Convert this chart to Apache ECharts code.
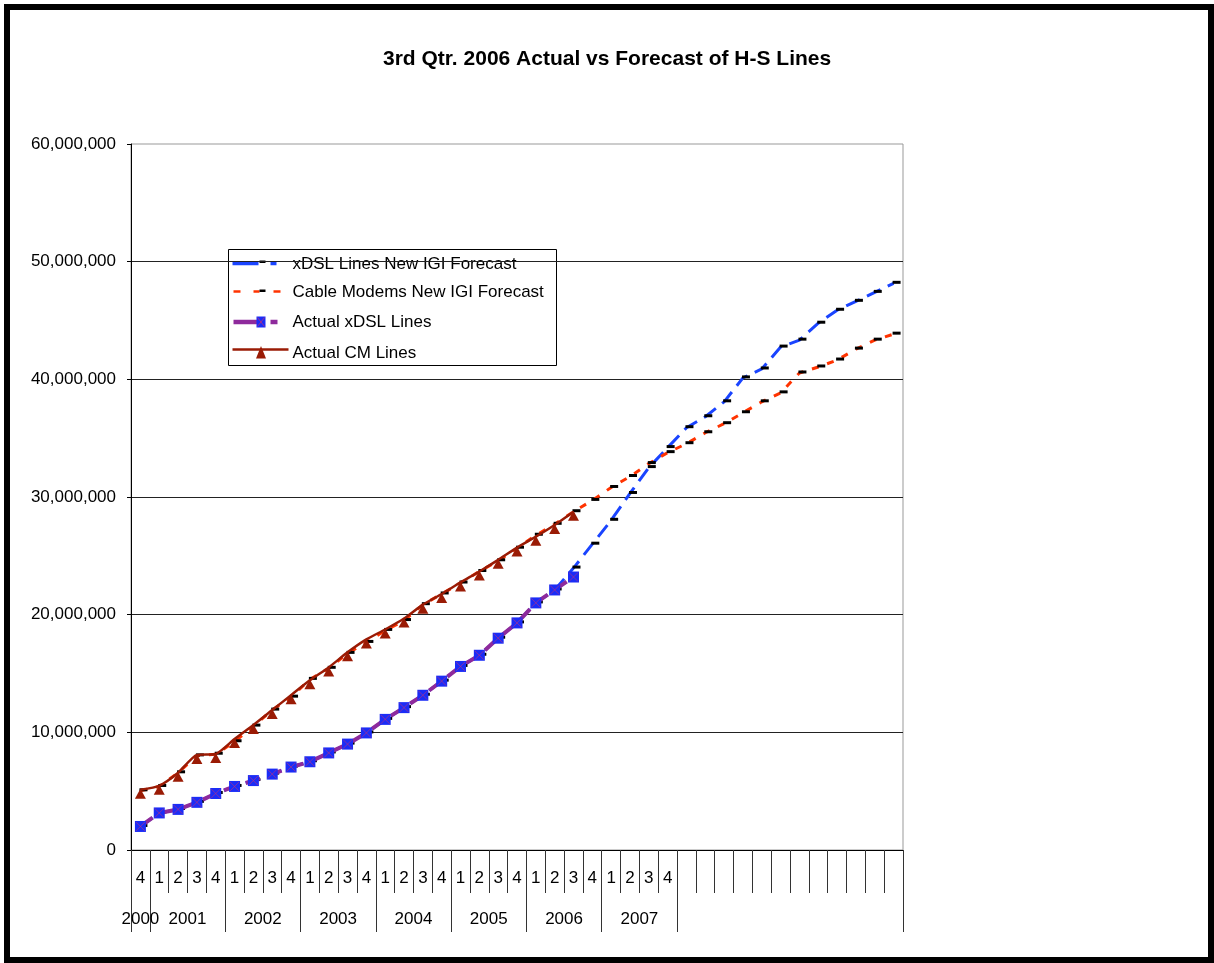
<!DOCTYPE html>
<html>
<head>
<meta charset="utf-8">
<title>H-S Lines</title>
<script src="https://cdn.jsdelivr.net/npm/echarts@6/dist/echarts.min.js"></script>
<style>
  html, body { margin: 0; padding: 0; background: #fff; }
  #chart { width: 1214px; height: 963px; }
</style>
</head>
<body>
<div id="chart"></div>
<script>
// Quarter labels along the category axis (2000 Q4 through 2010 Q4; later years unlabelled)
const quarterLabels = [
  '4',
  '1', '2', '3', '4',
  '1', '2', '3', '4',
  '1', '2', '3', '4',
  '1', '2', '3', '4',
  '1', '2', '3', '4',
  '1', '2', '3', '4',
  '1', '2', '3', '4',
  '', '', '', '',
  '', '', '', '',
  '', '', '', ''
];

// Year groups under the quarters and how many quarters each spans
const yearLabels = ['2000', '2001', '2002', '2003', '2004', '2005', '2006', '2007'];
const yearQuarterCounts = [1, 4, 4, 4, 4, 4, 4, 4];

// Lines in service
const actualXdsl = [
  2000000, 3150000, 3450000, 4050000, 4800000, 5400000, 5900000, 6450000,
  7050000, 7500000, 8250000, 9000000, 9950000, 11100000, 12100000, 13150000,
  14350000, 15600000, 16550000, 18000000, 19300000, 21000000, 22100000, 23200000
];
const actualCm = [
  5120000, 5450000, 6560000, 8080000, 8160000, 9430000, 10620000, 11890000,
  13160000, 14420000, 15520000, 16800000, 17900000, 18740000, 19670000, 20850000,
  21760000, 22740000, 23670000, 24660000, 25700000, 26630000, 27620000, 28750000
];
const xdslForecast = [
  2000000, 3150000, 3450000, 4050000, 4800000, 5400000, 5900000, 6450000,
  7050000, 7500000, 8250000, 9000000, 9950000, 11100000, 12100000, 13150000,
  14350000, 15600000, 16550000, 18000000, 19300000, 21000000, 22100000, 23960000,
  25990000, 28020000, 30300000, 32500000, 34200000, 35890000, 36820000, 38090000,
  40120000, 40880000, 42740000, 43330000, 44770000, 45870000, 46630000, 47390000,
  48160000
];
const cmForecast = [
  5030000, 5400000, 6560000, 8000000, 8140000, 9200000, 10530000, 11890000,
  12990000, 14500000, 15440000, 16710000, 17640000, 18660000, 19500000, 20850000,
  21760000, 22690000, 23670000, 24580000, 25650000, 26750000, 27680000, 28750000,
  29710000, 30810000, 31740000, 32840000, 33770000, 34530000, 35460000, 36230000,
  37160000, 38090000, 38850000, 40540000, 41050000, 41640000, 42570000, 43330000,
  43840000
];

const seriesNames = [
  'xDSL Lines New IGI Forecast',
  'Cable Modems New IGI Forecast',
  'Actual xDSL Lines',
  'Actual CM Lines'
];
const chartTitle = '3rd Qtr. 2006 Actual vs Forecast of H-S Lines';

const FONT = "'Liberation Sans', Arial, Helvetica, sans-serif";

// Year boundaries and year label centres on a 0..N scale of quarter slots
const yearBounds = [0];
const yearCenters = [];
yearQuarterCounts.forEach(function (n) {
  const start = yearBounds[yearBounds.length - 1];
  yearCenters.push(start + n / 2);
  yearBounds.push(start + n);
});
yearBounds.push(quarterLabels.length);

const C_XDSL_FC = '#1a44ff';
const C_CM_FC = '#ff3300';
const C_XDSL = '#8e2a9c';
const C_SQUARE = '#1b2cf6';
const C_CM = '#9a1b05';

// Hand-built legend block
const LX = 228, LY = 249;
function seg(x1, y1, x2, y2, color, w) {
  return { type: 'line', shape: { x1: x1, y1: y1, x2: x2, y2: y2 }, style: { stroke: color, lineWidth: w } };
}
function legendText(y, txt) {
  return { type: 'text', x: 64, y: y, style: { text: txt, font: '17px ' + FONT, fill: '#000', textVerticalAlign: 'middle' } };
}
const legendGroup = {
  type: 'group', left: LX, top: LY, z: 100,
  children: [
    { type: 'rect', shape: { x: 0, y: 0, width: 328, height: 116 }, style: { fill: '#fff', stroke: '#000', lineWidth: 1 } },
    // xDSL forecast sample
    seg(4, 14, 30, 14, C_XDSL_FC, 3.5),
    { type: 'rect', shape: { x: 31, y: 11, width: 6, height: 2.5 }, style: { fill: '#000' } },
    seg(42, 14, 48, 14, C_XDSL_FC, 3.5),
    legendText(15, seriesNames[0]),
    // cable modem forecast sample
    seg(5, 42, 12, 42, C_CM_FC, 2.5),
    seg(25, 42, 31, 42, C_CM_FC, 2.5),
    { type: 'rect', shape: { x: 31, y: 40, width: 6, height: 2.5 }, style: { fill: '#000' } },
    seg(45, 42, 52, 42, C_CM_FC, 2.5),
    legendText(43, seriesNames[1]),
    // actual xDSL sample
    seg(5, 72.5, 29, 72.5, C_XDSL, 4.5),
    { type: 'rect', shape: { x: 28, y: 67, width: 9, height: 11 }, style: { fill: C_SQUARE } },
    seg(29, 68, 36, 77, '#d0306c', 0.7),
    seg(36, 68, 29, 77, '#d0306c', 0.7),
    seg(42, 72.5, 49, 72.5, C_XDSL, 4.5),
    legendText(73, seriesNames[2]),
    // actual CM sample
    seg(4, 100, 60, 100, C_CM, 2.5),
    { type: 'polygon', shape: { points: [[32.5, 96.5], [27.5, 109], [37.5, 109]] }, style: { fill: C_CM } },
    legendText(104, seriesNames[3])
  ]
};

const chart = echarts.init(document.getElementById('chart'), null, { renderer: 'canvas' });

const option = {
  animation: false,
  backgroundColor: '#ffffff',
  textStyle: { fontFamily: FONT },
  title: {
    text: chartTitle,
    left: 383,
    top: 49,
    padding: 0,
    textStyle: { fontFamily: FONT, fontWeight: 'bold', fontSize: 21, color: '#000' }
  },
  grid: {
    left: 131, right: 311, top: 144, bottom: 113,
    show: true, borderColor: '#999', borderWidth: 1, backgroundColor: 'transparent'
  },
  xAxis: [
    {
      type: 'category',
      data: quarterLabels,
      boundaryGap: true,
      position: 'bottom',
      axisLine: { show: true, onZero: false, lineStyle: { color: '#000', width: 1 } },
      axisTick: { show: true, interval: 0, length: 43, lineStyle: { color: '#333', width: 1 } },
      axisLabel: { interval: 0, margin: 20, fontSize: 17, color: '#000', fontFamily: FONT },
      splitLine: { show: false }
    },
    {
      type: 'value',
      min: 0,
      max: quarterLabels.length,
      position: 'bottom',
      axisLine: { show: false },
      axisTick: { show: true, customValues: yearBounds, length: 82, lineStyle: { color: '#333', width: 1 } },
      axisLabel: {
        customValues: yearCenters,
        margin: 61,
        fontSize: 17,
        color: '#000',
        fontFamily: FONT,
        formatter: function (v) {
          const i = yearCenters.indexOf(v);
          return i >= 0 ? yearLabels[i] : '';
        }
      },
      splitLine: { show: false }
    }
  ],
  yAxis: {
    type: 'value',
    min: 0,
    max: 60000000,
    interval: 10000000,
    axisLine: { show: true, lineStyle: { color: '#000', width: 1 } },
    axisTick: { show: true, length: 4, lineStyle: { color: '#000' } },
    axisLabel: {
      margin: 15,
      fontSize: 17,
      color: '#000',
      fontFamily: FONT,
      formatter: function (v) { return v.toString().replace(/\B(?=(\d{3})+(?!\d))/g, ','); }
    },
    splitLine: { show: true, showMaxLine: false, lineStyle: { color: '#222', width: 1.2 } }
  },
  series: [
    {
      name: seriesNames[0],
      type: 'line',
      data: xdslForecast,
      showAllSymbol: true,
      symbol: 'rect',
      symbolSize: [8, 3],
      symbolOffset: [3, -1],
      itemStyle: { color: '#000' },
      lineStyle: { color: C_XDSL_FC, width: 3, type: [15, 8] },
      z: 2
    },
    {
      name: seriesNames[1],
      type: 'line',
      data: cmForecast,
      showAllSymbol: true,
      symbol: 'rect',
      symbolSize: [8, 3],
      symbolOffset: [3, -1],
      itemStyle: { color: '#000' },
      lineStyle: { color: C_CM_FC, width: 3, type: [7, 9] },
      z: 2
    },
    {
      name: seriesNames[2],
      type: 'line',
      data: actualXdsl,
      showAllSymbol: true,
      symbol: 'rect',
      symbolSize: 11,
      itemStyle: { color: C_SQUARE },
      lineStyle: { color: C_XDSL, width: 4, type: [15, 8] },
      z: 3
    },
    {
      // thin cross drawn inside each square marker
      name: 'xdsl-marker-cross',
      type: 'scatter',
      data: actualXdsl,
      symbol: 'path://M0,0L10,10M10,0L0,10',
      symbolSize: 9,
      itemStyle: { color: 'transparent', borderColor: '#d0306c', borderWidth: 0.7 },
      silent: true,
      z: 4
    },
    {
      name: seriesNames[3],
      type: 'line',
      data: actualCm,
      smooth: 0.2,
      showAllSymbol: true,
      symbol: 'triangle',
      symbolSize: [11, 10],
      symbolOffset: [0, 4],
      itemStyle: { color: C_CM },
      lineStyle: { color: C_CM, width: 2.5 },
      z: 5
    }
  ],
  graphic: [
    {
      type: 'rect',
      left: 4, top: 4, z: 200,
      shape: { x: 0, y: 0, width: 1204, height: 953 },
      style: { fill: 'none', stroke: '#000', lineWidth: 6 }
    },
    legendGroup
  ]
};

chart.setOption(option);
</script>
</body>
</html>
